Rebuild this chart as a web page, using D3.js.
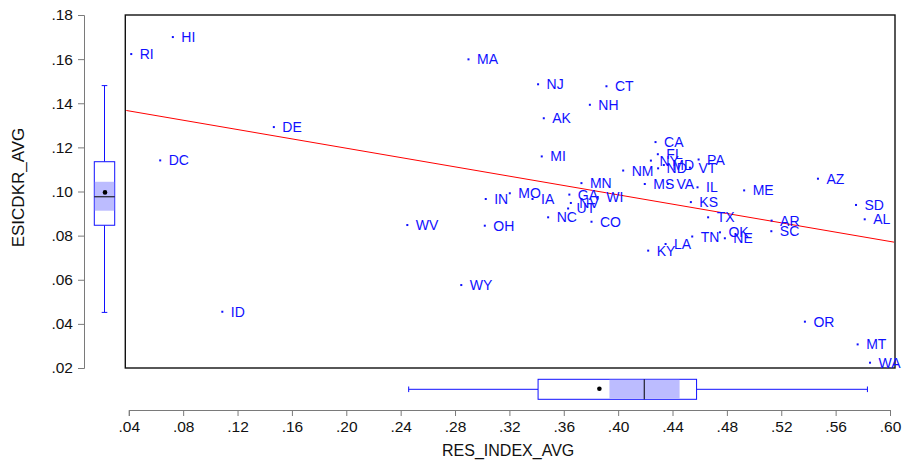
<!DOCTYPE html>
<html>
<head>
<meta charset="utf-8">
<script src="https://cdn.jsdelivr.net/npm/d3@7/dist/d3.min.js"></script>
<style>
  html, body { margin: 0; padding: 0; background: #fff; }
  svg { display: block; font-family: "Liberation Sans", Arial, sans-serif; }
</style>
</head>
<body>
<svg id="chart" width="907" height="461"></svg>
<script>
// ---------- data ----------
const states = ["HI","RI","DE","DC","MA","NJ","CT","NH","AK","CA","MI","NY","FL","MD","ND","PA","VT","NM","MN","MS","VA","IL","KS","ME","AZ","SD","AL","TX","AR","SC","OK","NE","TN","LA","KY","OR","MT","WA","ID","WV","WY","OH","IN","MO","IA","GA","WI","NV","UT","NC","CO"];
const resIndexAvg = [0.0724,0.0418,0.1467,0.0631,0.2899,0.3411,0.3914,0.3792,0.3453,0.4275,0.3438,0.4241,0.4292,0.4336,0.4294,0.4592,0.4528,0.4037,0.3730,0.4196,0.4366,0.4584,0.4535,0.4927,0.5470,0.5750,0.5814,0.4662,0.5129,0.5127,0.4749,0.4785,0.4545,0.4349,0.4221,0.5374,0.5762,0.5853,0.1088,0.2449,0.2846,0.3019,0.3026,0.3203,0.3370,0.3641,0.3850,0.3652,0.3632,0.3485,0.3804];
const esicdkrAvg = [0.1700,0.1623,0.1292,0.1141,0.1599,0.1486,0.1477,0.1393,0.1332,0.1224,0.1159,0.1140,0.1169,0.1120,0.1105,0.1145,0.1108,0.1095,0.1038,0.1034,0.1034,0.1019,0.0952,0.1005,0.1058,0.0939,0.0874,0.0883,0.0868,0.0820,0.0815,0.0788,0.0796,0.0762,0.0732,0.0410,0.0307,0.0224,0.0455,0.0848,0.0576,0.0845,0.0966,0.0992,0.0966,0.0986,0.0975,0.0948,0.0923,0.0883,0.0863];

const xTickValues = [0.04,0.08,0.12,0.16,0.20,0.24,0.28,0.32,0.36,0.40,0.44,0.48,0.52,0.56,0.60];
const yTickValues = [0.02,0.04,0.06,0.08,0.10,0.12,0.14,0.16,0.18];

// box plot summaries: [lower whisker, Q1, notch low, median, notch high, Q3, upper whisker, mean]
const esicBox = [0.0452,0.0847,0.0913,0.0976,0.1044,0.1135,0.1480,0.0996];
const resBox  = [0.2459,0.3411,0.3936,0.4192,0.4452,0.4577,0.5834,0.3862];

const xTitle = "RES_INDEX_AVG";
const yTitle = "ESICDKR_AVG";

// ---------- layout ----------
const frame = {left: 125.3, right: 895, top: 15, bottom: 368};
const svg = d3.select("#chart");

const x = d3.scaleLinear().domain([0.04, 0.60]).range([128.8, 890]);
const y = d3.scaleLinear().domain([0.02, 0.18]).range([368, 15]);
const fmt = d => d3.format(".2f")(d).replace(/^0/, "");
const blue = "#1010ff";
const axisGray = "#7a7a7a";

// ---------- left axis ----------
const yAxisG = svg.append("g").attr("transform", "translate(84,0)")
  .call(d3.axisLeft(y).tickValues(yTickValues).tickFormat(fmt).tickSizeOuter(0).tickSize(6).tickPadding(5));
yAxisG.select(".domain").attr("stroke", axisGray);
yAxisG.selectAll(".tick line").attr("stroke", axisGray);
yAxisG.selectAll(".tick text").attr("font-size", "15.5px").attr("fill", "#111")
  .attr("font-family", "Liberation Sans, Arial, sans-serif");

// ---------- bottom axis ----------
const xAxisG = svg.append("g").attr("transform", "translate(0,410)")
  .call(d3.axisBottom(x).tickValues(xTickValues).tickFormat(fmt).tickSizeOuter(0).tickSize(6).tickPadding(5));
xAxisG.select(".domain").attr("stroke", axisGray);
xAxisG.selectAll(".tick line").attr("stroke", axisGray);
xAxisG.selectAll(".tick text").attr("font-size", "15.5px").attr("fill", "#111")
  .attr("font-family", "Liberation Sans, Arial, sans-serif");

// ---------- titles ----------
svg.append("text").attr("x", (frame.left + frame.right) / 2 - 2).attr("y", 456)
  .attr("text-anchor", "middle").attr("font-size", "16px").attr("fill", "#111").text(xTitle);
svg.append("text").attr("transform", `translate(24,${(frame.top + frame.bottom) / 2 - 4}) rotate(-90)`)
  .attr("text-anchor", "middle").attr("font-size", "17px").attr("fill", "#111").text(yTitle);

// ---------- vertical box plot (ESICDKR) ----------
(function () {
  const cx = 104.5, hw = 10.2, capHw = 2.8;
  const [wl, q1, nl, med, nh, q3, wh, mean] = esicBox;
  const g = svg.append("g");
  g.append("line").attr("x1", cx).attr("x2", cx).attr("y1", y(wh)).attr("y2", y(q3)).attr("stroke", blue);
  g.append("line").attr("x1", cx).attr("x2", cx).attr("y1", y(q1)).attr("y2", y(wl)).attr("stroke", blue);
  g.append("line").attr("x1", cx - capHw).attr("x2", cx + capHw).attr("y1", y(wh)).attr("y2", y(wh)).attr("stroke", blue);
  g.append("line").attr("x1", cx - capHw).attr("x2", cx + capHw).attr("y1", y(wl)).attr("y2", y(wl)).attr("stroke", blue);
  g.append("rect").attr("x", cx - hw).attr("width", 2 * hw).attr("y", y(q3)).attr("height", y(q1) - y(q3))
    .attr("fill", "#fff").attr("stroke", blue);
  g.append("rect").attr("x", cx - hw + 0.5).attr("width", 2 * hw - 1).attr("y", y(nh)).attr("height", y(nl) - y(nh))
    .attr("fill", "#bcbcff");
  g.append("line").attr("x1", cx - hw).attr("x2", cx + hw).attr("y1", y(med)).attr("y2", y(med)).attr("stroke", "#000");
  g.append("circle").attr("cx", cx + 0.5).attr("cy", y(mean)).attr("r", 2.3).attr("fill", "#000");
})();

// ---------- horizontal box plot (RES_INDEX) ----------
(function () {
  const cy = 389.3, hh = 10, capHh = 2.8;
  const [wl, q1, nl, med, nh, q3, wh, mean] = resBox;
  const g = svg.append("g");
  g.append("line").attr("y1", cy).attr("y2", cy).attr("x1", x(wl)).attr("x2", x(q1)).attr("stroke", blue);
  g.append("line").attr("y1", cy).attr("y2", cy).attr("x1", x(q3)).attr("x2", x(wh)).attr("stroke", blue);
  g.append("line").attr("y1", cy - capHh).attr("y2", cy + capHh).attr("x1", x(wl)).attr("x2", x(wl)).attr("stroke", blue);
  g.append("line").attr("y1", cy - capHh).attr("y2", cy + capHh).attr("x1", x(wh)).attr("x2", x(wh)).attr("stroke", blue);
  g.append("rect").attr("y", cy - hh).attr("height", 2 * hh).attr("x", x(q1)).attr("width", x(q3) - x(q1))
    .attr("fill", "#fff").attr("stroke", blue);
  g.append("rect").attr("y", cy - hh + 0.5).attr("height", 2 * hh - 1).attr("x", x(nl)).attr("width", x(nh) - x(nl))
    .attr("fill", "#bcbcff");
  g.append("line").attr("y1", cy - hh).attr("y2", cy + hh).attr("x1", x(med)).attr("x2", x(med)).attr("stroke", "#000");
  g.append("circle").attr("cy", cy - 0.5).attr("cx", x(mean)).attr("r", 2.3).attr("fill", "#000");
})();

// ---------- scatter frame ----------
svg.append("rect").attr("x", frame.left).attr("y", frame.top)
  .attr("width", frame.right - frame.left).attr("height", frame.bottom - frame.top)
  .attr("fill", "none").attr("stroke", "#111").attr("stroke-width", 1.4);

// ---------- regression line (OLS on the data) ----------
const n = resIndexAvg.length;
const mx = d3.mean(resIndexAvg), my = d3.mean(esicdkrAvg);
let sxy = 0, sxx = 0;
for (let i = 0; i < n; i++) {
  sxy += (resIndexAvg[i] - mx) * (esicdkrAvg[i] - my);
  sxx += (resIndexAvg[i] - mx) ** 2;
}
const slope = sxy / sxx, intercept = my - slope * mx;
const xl = x.invert(frame.left + 1), xr = x.invert(frame.right - 1);
svg.append("line")
  .attr("x1", x(xl)).attr("y1", y(intercept + slope * xl))
  .attr("x2", x(xr)).attr("y2", y(intercept + slope * xr))
  .attr("stroke", "#ff0000").attr("stroke-width", 1);

// ---------- points and labels ----------
const pts = svg.append("g");
states.forEach((s, i) => {
  const px = x(resIndexAvg[i]), py = y(esicdkrAvg[i]);
  pts.append("rect").attr("x", px - 1).attr("y", py - 1).attr("width", 2).attr("height", 2).attr("fill", blue);
  pts.append("text").attr("x", px + 8.5).attr("y", py + 5)
    .attr("font-size", "14px").attr("fill", blue).text(s);
});
</script>
</body>
</html>
